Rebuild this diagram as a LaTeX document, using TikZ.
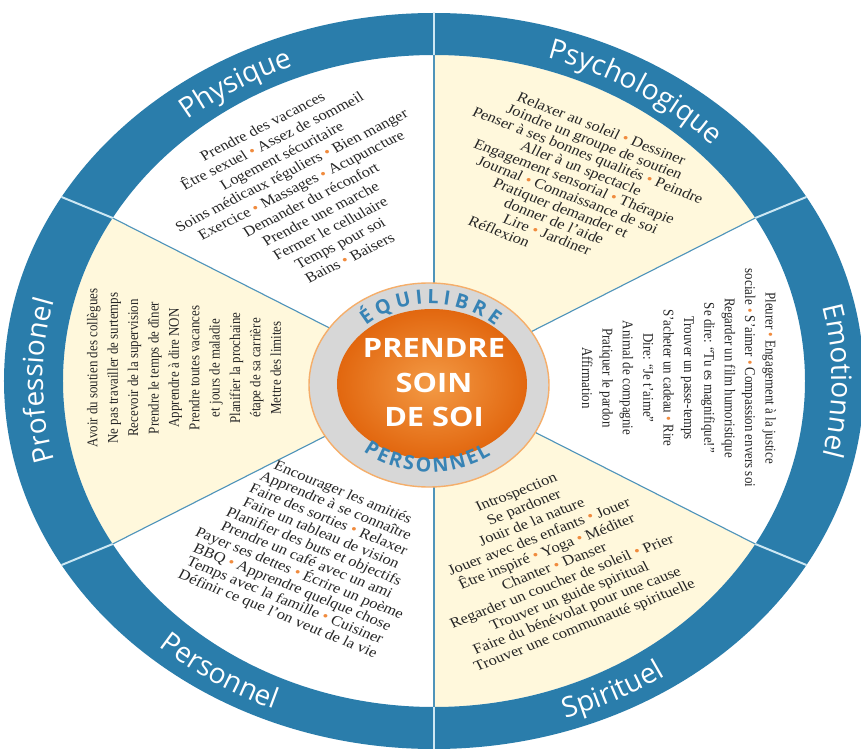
\documentclass[tikz,border=0pt]{standalone}
\usepackage{fontspec}
\setmainfont{Liberation Serif}
\newfontfamily\sansfont{Open Sans}
\usetikzlibrary{decorations.text}
\definecolor{anneau}{HTML}{2A7DAB}
\definecolor{creme}{HTML}{FFF8DC}
\definecolor{trait}{HTML}{4F94BA}
\definecolor{clair}{HTML}{CDE7F3}
\definecolor{orange1}{HTML}{F39A45}
\definecolor{orange2}{HTML}{E2670F}
\definecolor{gris}{HTML}{D7D7D7}
\definecolor{bleutxt}{HTML}{3783B5}
\definecolor{puce}{HTML}{F08B3E}
\newcommand\bul{\unskip\ {\color{puce}\textbullet}\ \ignorespaces}

\begin{document}
\begin{tikzpicture}[x=0.025cm,y=0.025cm,
liste/.style={align=center,inner sep=0pt,text=black!85,xscale=1.15,font=\fontsize{10.2}{#1}\selectfont},
colonne/.style={liste,font=\fontsize{9.2}{12.6}\selectfont},
titre/.style={decorate,decoration={text along path,text align=center,text color=white,text={|\sansfont\fontsize{20}{20}\selectfont|#1}}},
centre/.style={decorate,decoration={text along path,text align=fit to path,text color=bleutxt,text={|\sansfont\bfseries\fontsize{14}{14}\selectfont|#1}}}]
\fill[white] (-434,-368) rectangle (427,381);
\useasboundingbox (-434,-368) rectangle (427,381);
\foreach \a in {30,150,270}
\fill[creme] (0,0) -- (\a:371 and 326) arc[start angle=\a,end angle=\a+60,x radius=371,y radius=326] -- cycle;
\foreach \a in {30,90,...,330}
\draw[trait,line width=0.8pt] (0,0) -- (\a:371 and 326);
\fill[anneau,even odd rule] (0,0) ellipse[x radius=430,y radius=368] (0,0) ellipse[x radius=371,y radius=326];
\foreach \a in {30,90,...,330}
\draw[clair,line width=1.4pt] (\a:371 and 326) -- (\a:430 and 368);
\draw[fill=gris,draw=orange1!80,line width=1pt] (-5,-4) ellipse[x radius=120,y radius=102];
\shade[inner color=orange1,outer color=orange2] (-2,-3) ellipse[x radius=95,y radius=75];
\node[font=\sansfont\bfseries\fontsize{19}{24.5}\selectfont,text=white,align=center,xscale=1.15] (soin)at(0,-2){PRENDRE\\SOIN\\DE SOI};
\path[centre=ÉQUILIBRE] ([shift={(-4,-3)}]133:94 and 80) arc[start angle=133,end angle=46,x radius=94,y radius=80];
\path[centre=PERSONNEL] ([shift={(-4,-3)}]230:104 and 88) arc[start angle=230,end angle=306,x radius=104,y radius=88];
\path[titre=Physique] (149:388 and 338) arc[start angle=149,end angle=93,x radius=388,y radius=338];
\path[titre=Psychologique] (87:388 and 338) arc[start angle=87,end angle=29,x radius=388,y radius=338];
\path[titre=Emotionnel] (28:398 and 340) arc[start angle=28,end angle=-28,x radius=398,y radius=340];
\path[titre=Professionel] (208:391 and 334) arc[start angle=208,end angle=152,x radius=391,y radius=334];
\path[titre=Spirituel] (269:413 and 356) arc[start angle=269,end angle=325,x radius=413,y radius=356];
\path[titre=Personnel] (209:413 and 356) arc[start angle=209,end angle=265,x radius=413,y radius=356];
\node[liste=12,rotate=30] (physique)at(-128,189){Prendre des vacances\\Être sexuel \bul Assez de sommeil\\Logement sécuritaire\\Soins médicaux réguliers \bul Bien manger\\Exercice \bul Massages \bul Acupuncture\\Demander du réconfort\\Prendre une marche\\Fermer le cellulaire\\Temps pour soi\\Bains \bul Baisers};
\node[liste=10.3,rotate=-24] (psycho)at(137,193){Relaxer au soleil \bul Dessiner\\Joindre un groupe de soutien\\Penser à ses bonnes qualités \bul Peindre\\Aller à un spectacle\\Engagement sensorial \bul Thérapie\\Journal \bul Connaissance de soi\hspace*{8pt}\\Pratiquer demander et\hspace*{24pt}\\donner de l’aide\hspace*{38pt}\\Lire \bul Jardiner\hspace*{58pt}\\Réflexion\hspace*{56pt}};
\node[colonne,rotate=-90] (emotion)at(245,3){Pleurer \bul Engagement à la justice\\sociale \bul S’aimer \bul Compassion envers soi\\Regarder un film humoristique\\Se dire: “Tu es magnifique!”\\Trouver un passe-temps\\S’acheter un cadeau \bul Rire\\Dire: “Je t’aime”\\Animal de compagnie\\Pratiquer le pardon\\Affirmation};
\node[liste=11.5,rotate=24] (spirit)at(117,-179){Introspection\\Se pardoner\\Jouir de la nature\\Jouer avec des enfants \bul Jouer\\Être inspiré \bul Yoga \bul Méditer\\Chanter \bul Danser\\Regarder un coucher de soleil \bul Prier\\Trouver un guide spiritual\\Faire du bénévolat pour une cause\\Trouver une communauté spirituelle};
\node[liste=10.6,rotate=-25] (perso)at(-124,-173){Encourager les amitiés\\Apprendre à se connaître\\Faire des sorties \bul Relaxer\\Faire un tableau de vision\\Planifier des buts et objectifs\\Prendre un café avec un ami\\Payer ses dettes \bul Écrire un poème\\BBQ \bul Apprendre quelque chose\\Temps avec la famille \bul Cuisiner\\Définir ce que l’on veut de la vie};
\node[colonne,rotate=90] (profession)at(-250,13){Avoir du soutien des collègues\\Ne pas travailler de surtemps\\Recevoir de la supervision\\Prendre le temps de dîner\\Apprendre à dire NON\\Prendre toutes vacances\\et jours de maladie\\Planifier la prochaine\\étape de sa carrière\\Mettre des limites};
\end{tikzpicture}
\end{document}
